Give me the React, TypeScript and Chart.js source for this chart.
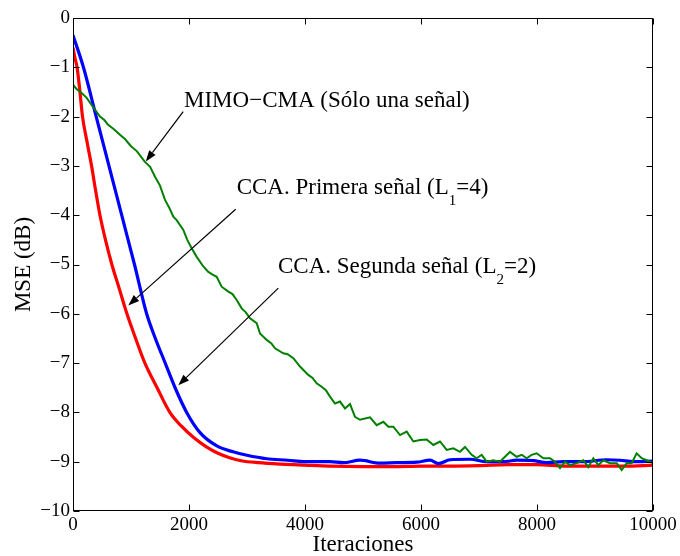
import React, { useEffect, useRef } from 'react';
import { Chart, registerables } from 'chart.js';

Chart.register(...registerables);

// ---- axis ticks ----
const xTickValues = [0, 2000, 4000, 6000, 8000, 10000];
const yTickValues = [-10, -9, -8, -7, -6, -5, -4, -3, -2, -1, 0];

// ---- series: CCA segunda señal (red) ----
const redIter = [0, 35, 70, 120, 164, 240, 320, 390, 465, 560, 670, 800, 930, 1080, 1240, 1450, 1670, 1870, 2070, 2300, 2500, 2700, 2900, 3200, 3600, 4000, 4431, 5000, 5500, 6000, 6500, 7000, 7500, 8000, 8500, 9000, 9500, 10000];
const redMse = [-0.6, -0.82, -1.0, -1.5, -2.0, -2.5, -3.0, -3.5, -4.0, -4.5, -5.0, -5.5, -6.0, -6.5, -7.0, -7.5, -8.0, -8.28, -8.5, -8.7, -8.83, -8.92, -8.98, -9.02, -9.05, -9.07, -9.09, -9.1, -9.1, -9.09, -9.09, -9.08, -9.06, -9.06, -9.09, -9.09, -9.09, -9.07];

// ---- series: CCA primera señal (blue) ----
const blueIter = [0, 180, 400, 620, 840, 1060, 1270, 1420, 1590, 1760, 1960, 2190, 2480, 2760, 3000, 3340, 3700, 4000, 4431, 4661, 4948, 5293, 5580, 5925, 6155, 6299, 6500, 6845, 7132, 7420, 7649, 7937, 8167, 8454, 8799, 9201, 9431, 9661, 10000];
const blueMse = [-0.35, -1.0, -2.0, -3.0, -4.0, -5.0, -6.0, -6.5, -7.0, -7.5, -8.0, -8.41, -8.68, -8.8, -8.87, -8.94, -8.97, -9.0, -9.0, -9.02, -8.97, -9.03, -9.02, -9.01, -8.97, -9.04, -8.96, -8.95, -9.0, -9.0, -8.97, -8.98, -9.02, -9.0, -9.0, -8.96, -8.97, -9.0, -8.99];

// ---- series: MIMO-CMA (green) ----
const greenIter = [0, 60, 130, 236, 330, 465, 540, 600, 700, 810, 900, 1000, 1100, 1240, 1330, 1414, 1500, 1586, 1660, 1730, 1787, 1902, 1970, 2046, 2130, 2247, 2333, 2400, 2477, 2563, 2678, 2750, 2822, 2908, 2980, 3052, 3167, 3224, 3339, 3420, 3483, 3626, 3700, 3799, 3914, 4057, 4130, 4201, 4287, 4360, 4431, 4517, 4603, 4690, 4776, 4862, 4948, 5121, 5236, 5351, 5437, 5523, 5638, 5753, 5868, 5983, 6098, 6213, 6328, 6443, 6557, 6672, 6759, 6874, 6960, 7046, 7132, 7247, 7362, 7448, 7534, 7649, 7736, 7822, 7908, 7994, 8109, 8224, 8310, 8397, 8483, 8569, 8684, 8799, 8885, 8971, 9057, 9143, 9259, 9374, 9460, 9546, 9632, 9718, 9804, 9891, 10000];
const greenMse = [-1.35, -1.44, -1.5, -1.62, -1.78, -2.0, -2.07, -2.16, -2.25, -2.37, -2.46, -2.6, -2.7, -2.92, -3.02, -3.22, -3.4, -3.69, -3.85, -4.03, -4.1, -4.3, -4.5, -4.67, -4.84, -5.04, -5.15, -5.2, -5.25, -5.45, -5.55, -5.6, -5.72, -5.89, -5.97, -6.09, -6.19, -6.4, -6.53, -6.6, -6.7, -6.8, -6.82, -6.9, -7.07, -7.24, -7.3, -7.41, -7.48, -7.55, -7.68, -7.82, -7.78, -7.92, -7.83, -8.09, -8.15, -8.1, -8.26, -8.19, -8.29, -8.29, -8.46, -8.39, -8.59, -8.56, -8.55, -8.66, -8.59, -8.76, -8.73, -8.8, -8.7, -8.86, -8.93, -8.86, -9.0, -8.97, -9.0, -8.9, -8.8, -8.9, -8.86, -8.93, -8.86, -8.83, -8.93, -8.93, -9.0, -9.13, -9.0, -9.07, -9.03, -8.97, -9.11, -8.93, -9.07, -8.97, -9.03, -9.03, -9.17, -9.03, -9.03, -8.83, -8.93, -8.97, -9.03];

// ---- annotations (data units) ----
const annTextParts = [
  [['MIMO−CMA (Sólo una señal)', false]],
  [['CCA. Primera señal (L', false], ['1', true], ['=4)', false]],
  [['CCA. Segunda señal (L', false], ['2', true], ['=2)', false]],
];
const annTextIter = [1914, 2822, 3534];
const annTextMse = [-1.80, -3.56, -5.18];
const arrowFromIter = [1900, 2805, 3540];
const arrowFromMse = [-1.90, -3.88, -5.48];
const arrowToIter = [1255, 953, 1816];
const arrowToMse = [-2.91, -5.83, -7.45];

const FONT = '"Liberation Serif", "Times New Roman", serif';

const toPoints = (xs: number[], ys: number[]) => xs.map((x, i) => ({ x, y: ys[i] }));
const fmt = (v: number) => (v < 0 ? '−' + Math.abs(v) : String(v));

export default function App() {
  const ref = useRef<HTMLCanvasElement>(null);

  useEffect(() => {
    if (!ref.current) return;

    const framePlugin = {
      id: 'matlabFrame',
      afterDraw(chart: any) {
        const { ctx, chartArea: a, scales } = chart;
        const xs = scales.x;
        const ys = scales.y;
        ctx.save();
        ctx.strokeStyle = '#000';
        ctx.lineWidth = 1;
        const L = Math.round(a.left) + 0.5;
        const R = Math.round(a.right) - 0.5;
        const T = Math.round(a.top) + 0.5;
        const B = Math.round(a.bottom) - 0.5;
        ctx.strokeRect(L, T, R - L, B - T);
        const tl = 6;
        ctx.beginPath();
        xTickValues.forEach((v) => {
          const px = Math.round(xs.getPixelForValue(v)) + 0.5;
          ctx.moveTo(px, B);
          ctx.lineTo(px, B - tl);
          ctx.moveTo(px, T);
          ctx.lineTo(px, T + tl);
        });
        yTickValues.forEach((v) => {
          const py = Math.round(ys.getPixelForValue(v)) + 0.5;
          ctx.moveTo(L, py);
          ctx.lineTo(L + tl, py);
          ctx.moveTo(R, py);
          ctx.lineTo(R - tl, py);
        });
        ctx.stroke();

        // annotations
        ctx.fillStyle = '#000';
        ctx.textBaseline = 'alphabetic';
        ctx.textAlign = 'left';
        annTextParts.forEach((parts, i) => {
          let x = xs.getPixelForValue(annTextIter[i]);
          const y = ys.getPixelForValue(annTextMse[i]);
          parts.forEach(([t, sub]) => {
            ctx.font = sub ? `15px ${FONT}` : `23px ${FONT}`;
            ctx.fillText(t as string, x, sub ? y + 11 : y);
            x += ctx.measureText(t as string).width;
          });
          const x0 = xs.getPixelForValue(arrowFromIter[i]);
          const y0 = ys.getPixelForValue(arrowFromMse[i]);
          const x1 = xs.getPixelForValue(arrowToIter[i]);
          const y1 = ys.getPixelForValue(arrowToMse[i]);
          const ang = Math.atan2(y1 - y0, x1 - x0);
          const hl = 11;
          const hw = 4;
          const bx = x1 - hl * Math.cos(ang);
          const by = y1 - hl * Math.sin(ang);
          ctx.beginPath();
          ctx.lineWidth = 1.2;
          ctx.moveTo(x0, y0);
          ctx.lineTo(bx, by);
          ctx.stroke();
          ctx.beginPath();
          ctx.moveTo(x1, y1);
          ctx.lineTo(bx + hw * Math.sin(ang), by - hw * Math.cos(ang));
          ctx.lineTo(bx - hw * Math.sin(ang), by + hw * Math.cos(ang));
          ctx.closePath();
          ctx.fill();
        });
        ctx.restore();
      },
    };

    const chart = new Chart(ref.current, {
      type: 'line',
      data: {
        datasets: [
          { label: 'MIMO-CMA', data: toPoints(greenIter, greenMse), borderColor: '#008000', borderWidth: 2, pointRadius: 0, tension: 0, fill: false },
          { label: 'CCA primera', data: toPoints(blueIter, blueMse), borderColor: '#0000ff', borderWidth: 3.2, pointRadius: 0, cubicInterpolationMode: 'monotone', fill: false },
          { label: 'CCA segunda', data: toPoints(redIter, redMse), borderColor: '#ff0000', borderWidth: 3.2, pointRadius: 0, cubicInterpolationMode: 'monotone', fill: false },
        ],
      },
      options: {
        responsive: false,
        animation: false,
        devicePixelRatio: 1,
        layout: { padding: { left: 0, right: 27, top: 18, bottom: 0 } },
        plugins: { legend: { display: false }, tooltip: { enabled: false } },
        scales: {
          x: {
            type: 'linear',
            min: 0,
            max: 10000,
            afterBuildTicks: (s: any) => {
              s.ticks = xTickValues.map((v) => ({ value: v }));
            },
            afterFit: (s: any) => {
              s.height = 45;
            },
            ticks: { autoSkip: false, maxRotation: 0, padding: 3, color: '#000', font: { family: FONT, size: 19 }, callback: (v: any) => fmt(Number(v)) },
            grid: { display: false, drawTicks: false },
            border: { display: false },
            title: { display: true, text: 'Iteraciones', color: '#000', font: { family: FONT, size: 23 }, padding: { top: 0, bottom: -3 } },
          },
          y: {
            type: 'linear',
            min: -10,
            max: 0,
            afterBuildTicks: (s: any) => {
              s.ticks = yTickValues.map((v) => ({ value: v }));
            },
            afterFit: (s: any) => {
              s.width = 73;
            },
            ticks: { autoSkip: false, padding: 3, color: '#000', font: { family: FONT, size: 19 }, callback: (v: any) => fmt(Number(v)) },
            grid: { display: false, drawTicks: false },
            border: { display: false },
            title: { display: true, text: 'MSE (dB)', color: '#000', font: { family: FONT, size: 23 }, padding: { top: 10, bottom: 0 } },
          },
        },
      },
      plugins: [framePlugin],
    } as any);

    return () => chart.destroy();
  }, []);

  return (
    <div style={{ position: 'fixed', left: 0, top: 0, width: 680, height: 556, background: '#fff' }}>
      <canvas ref={ref} width={680} height={556} style={{ display: 'block' }} />
    </div>
  );
}
